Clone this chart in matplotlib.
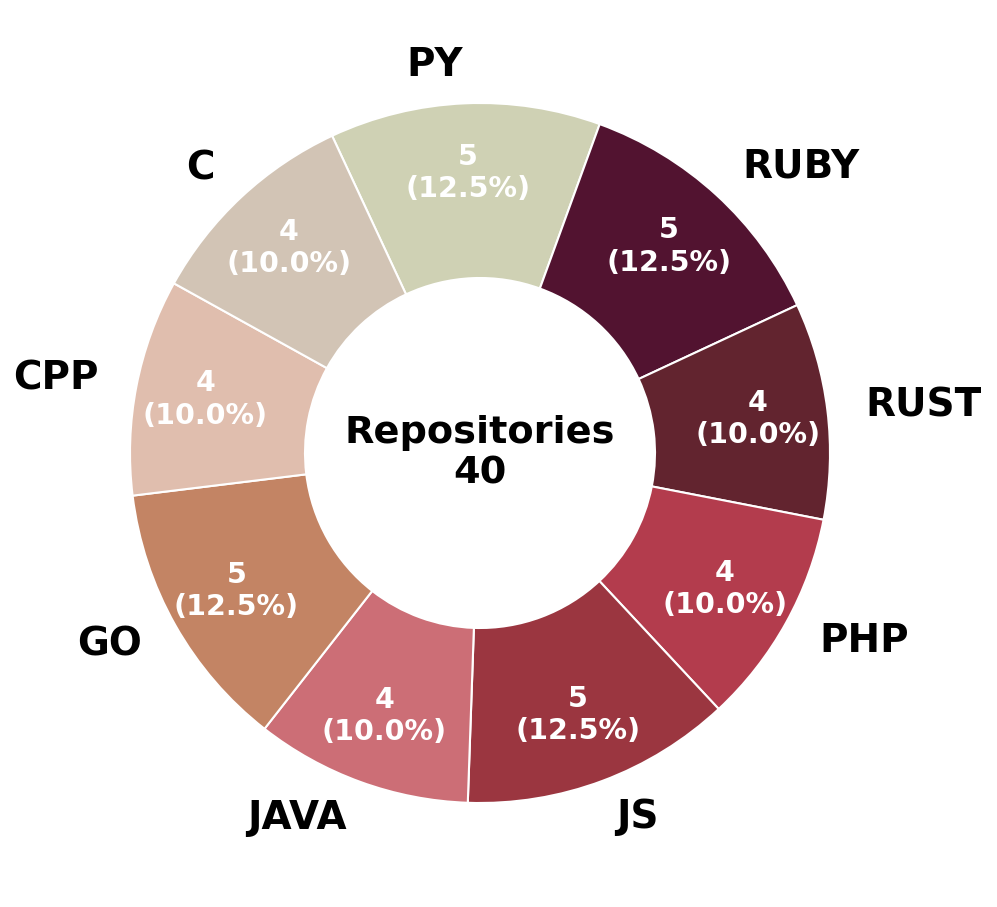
import matplotlib
matplotlib.use('Agg')
import matplotlib.pyplot as plt

langs = ['PY', 'RUBY', 'RUST', 'PHP', 'JS', 'JAVA', 'GO', 'CPP', 'C']
counts = [5, 5, 4, 4, 5, 4, 5, 4, 4]
colors = ['#CFD1B4', '#521330', '#62242F', '#B33C4D', '#9B3640',
          '#CC6E76', '#C38464', '#E0BEAE', '#D2C4B5']

total = sum(counts)

fig = plt.figure(figsize=(9.97, 9.07), dpi=100)
ax = fig.add_axes([0, 0, 1, 1])

wedges, texts, autotexts = ax.pie(
    counts,
    labels=langs,
    colors=colors,
    startangle=115,
    counterclock=False,
    labeldistance=1.11,
    pctdistance=0.8,
    autopct=lambda p: f'{round(p * total / 100)}\n({p:.1f}%)',
    wedgeprops=dict(width=0.5, edgecolor='white', linewidth=1.5),
    textprops=dict(fontweight='bold'),
)
for t in texts:
    t.set_fontsize(28)
for t in autotexts:
    t.set_fontsize(20.5)
    t.set_color('white')
    t.set_linespacing(1.2)

ax.text(0, 0, f'Repositories\n{total}', ha='center', va='center',
        fontsize=27.5, fontweight='bold', linespacing=1.15)

# pie center at (480, 453) px, radius 350 px
r = 350
ax.set_xlim(-480 / r, (997 - 480) / r)
ax.set_ylim(-(907 - 453) / r, 453 / r)
ax.set_aspect('auto')
ax.axis('off')

fig.savefig('out.png', dpi=100)
